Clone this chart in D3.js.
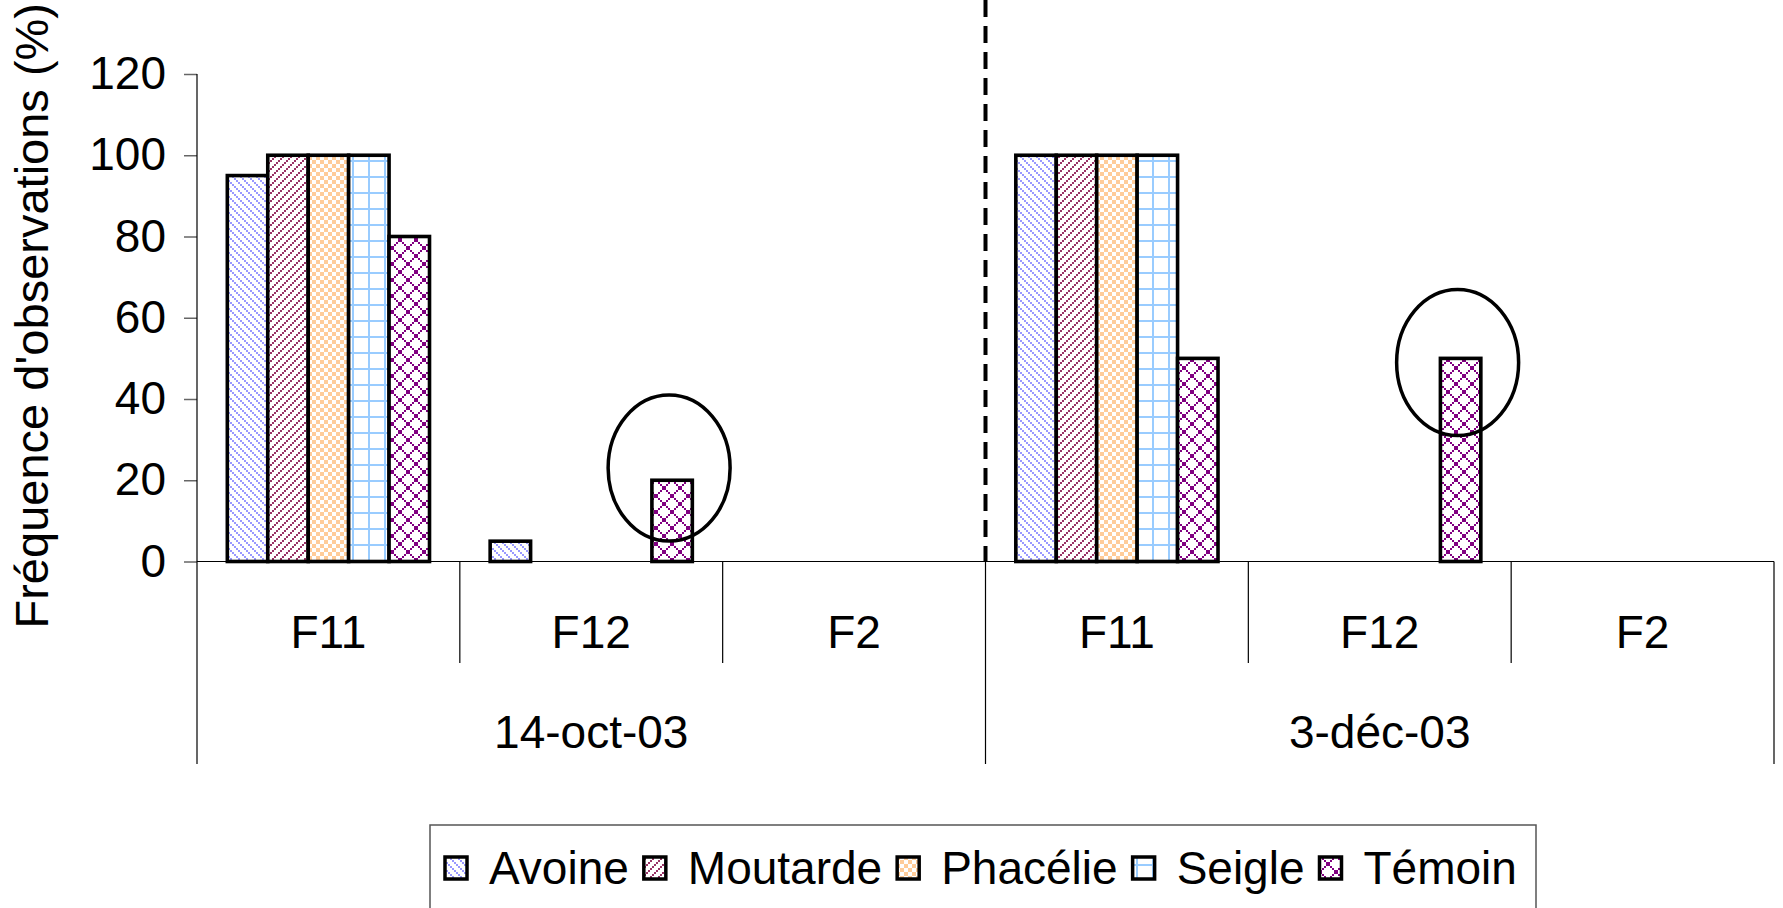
<!DOCTYPE html>
<html>
<head>
<meta charset="utf-8">
<script src="https://cdn.jsdelivr.net/npm/d3@7"></script>
<style>
  body { margin: 0; background: #fff; }
  text { font-family: "Liberation Sans", Arial, sans-serif; fill: #000; }
</style>
</head>
<body>
<div class="chart"></div>
<script>
const width = 1783;
const height = 908;

const dates = ["14-oct-03", "3-déc-03"];
const fields = ["F11", "F12", "F2"];
const series = ["Avoine", "Moutarde", "Phacélie", "Seigle", "Témoin"];
// values per category, in order 14-oct F11, F12, F2, 3-déc F11, F12, F2
const avoine   = [95, 5, 0, 100, 0, 0];
const moutarde = [100, 0, 0, 100, 0, 0];
const phacelie = [100, 0, 0, 100, 0, 0];
const seigle   = [100, 0, 0, 100, 0, 0];
const temoin   = [80, 20, 0, 50, 50, 0];
const yTicks = [0, 20, 40, 60, 80, 100, 120];
// circled bars: category index, series, height of circle centre (in %)
const circled = [
    { cat: 1, serie: "Témoin", at: 23 },
    { cat: 4, serie: "Témoin", at: 49 }
];

const values = { "Avoine": avoine, "Moutarde": moutarde, "Phacélie": phacelie, "Seigle": seigle, "Témoin": temoin };
const categories = [];
dates.forEach(d => fields.forEach(f => categories.push({ key: d + "|" + f, date: d, field: f })));

const plotLeft = 197, plotRight = 1774, plotBase = 561.5, plotTop = 74;

const svg = d3.select(".chart")
    .append("svg")
    .attr("width", width)
    .attr("height", height)
    .attr("viewBox", [0, 0, width, height]);

// Excel-like fill patterns
const defs = svg.append("defs");
function addPattern(id, size, color, cells) {
    const p = defs.append("pattern")
        .attr("id", id)
        .attr("patternUnits", "userSpaceOnUse")
        .attr("width", size)
        .attr("height", size);
    p.append("rect").attr("width", size).attr("height", size).attr("fill", "#fff");
    cells.forEach(c => p.append("rect")
        .attr("x", c[0]).attr("y", c[1]).attr("width", c[2]).attr("height", c[3])
        .attr("fill", color).attr("shape-rendering", "crispEdges"));
}
addPattern("p0", 8, "#9999ff", [[0,0,2,2],[2,2,2,2],[4,4,2,2],[6,6,2,2]]);
addPattern("p1", 8, "#993366", [[6,0,2,2],[4,2,2,2],[2,4,2,2],[0,6,2,2]]);
addPattern("p2", 8, "#ffcc99", [[0,0,4,4],[4,4,4,4]]);
addPattern("p3", 16, "#99ccff", [[0,0,16,2],[0,0,2,16]]);
addPattern("p4", 16, "#800080", d3.range(8).flatMap(i => [[2*i,2*i,2,2],[14-2*i,2*i,2,2]]));
const fillOf = s => `url(#p${series.indexOf(s)})`;

const x = d3.scaleBand()
    .domain(categories.map(c => c.key))
    .range([plotLeft, plotRight]);
const xDate = d3.scaleBand()
    .domain(dates)
    .range([plotLeft, plotRight]);
const xSerie = d3.scaleBand()
    .domain(series)
    .range([0, x.bandwidth()])
    .paddingInner(0)
    .paddingOuter(0.75);
const y = d3.scaleLinear()
    .domain([0, 120])
    .range([plotBase, plotTop]);

// dashed separator between the two dates
svg.append("line")
    .attr("x1", xDate(dates[1])).attr("x2", xDate(dates[1]))
    .attr("y1", 0).attr("y2", plotBase)
    .attr("stroke", "#000")
    .attr("stroke-width", 4)
    .attr("stroke-dasharray", "17,9");

// bars
const bars = [];
series.forEach(s => values[s].forEach((v, i) => { if (v > 0) bars.push({ serie: s, cat: categories[i].key, value: v }); }));
svg.append("g").selectAll("rect")
    .data(bars)
    .enter()
    .append("rect")
    .attr("x", d => x(d.cat) + xSerie(d.serie))
    .attr("y", d => y(d.value))
    .attr("width", xSerie.bandwidth())
    .attr("height", d => y(0) - y(d.value))
    .attr("fill", d => fillOf(d.serie))
    .attr("stroke", "#000")
    .attr("stroke-width", 3.6);

// y axis
const yAxis = d3.axisLeft(y)
    .tickValues(yTicks)
    .tickSize(13)
    .tickPadding(18);
const gY = svg.append("g")
    .attr("transform", `translate(${plotLeft}, 0)`)
    .call(yAxis);
gY.select(".domain").remove();
gY.selectAll(".tick line").attr("stroke", "#666").attr("stroke-width", 1.5);
gY.selectAll("text")
    .style("font-size", "46px")
    .style("font-family", "'Liberation Sans', Arial, sans-serif");
svg.append("line")
    .attr("x1", plotLeft).attr("x2", plotLeft)
    .attr("y1", plotTop).attr("y2", 764)
    .attr("stroke", "#000").attr("stroke-width", 1.2);

svg.append("text")
    .attr("transform", `translate(48, ${(plotTop + plotBase) / 2 - 2}) rotate(-90)`)
    .attr("text-anchor", "middle")
    .style("font-size", "47px")
    .text("Fréquence d'observations (%)");

// category axis, two levels
svg.append("line")
    .attr("x1", plotLeft).attr("x2", plotRight)
    .attr("y1", plotBase).attr("y2", plotBase)
    .attr("stroke", "#000").attr("stroke-width", 1.2);
svg.append("g").selectAll("line")
    .data(categories.slice(1))
    .enter()
    .append("line")
    .attr("x1", d => x(d.key)).attr("x2", d => x(d.key))
    .attr("y1", plotBase)
    .attr("y2", d => d.field === fields[0] ? 764 : 663)
    .attr("stroke", "#000").attr("stroke-width", 1.2);
svg.append("line")
    .attr("x1", plotRight).attr("x2", plotRight)
    .attr("y1", plotBase).attr("y2", 764)
    .attr("stroke", "#000").attr("stroke-width", 1.2);

svg.append("g").selectAll("text")
    .data(categories)
    .enter()
    .append("text")
    .attr("x", d => x(d.key) + x.bandwidth() / 2)
    .attr("y", 648)
    .attr("text-anchor", "middle")
    .style("font-size", "46px")
    .text(d => d.field);
svg.append("g").selectAll("text")
    .data(dates)
    .enter()
    .append("text")
    .attr("x", d => xDate(d) + xDate.bandwidth() / 2)
    .attr("y", 748)
    .attr("text-anchor", "middle")
    .style("font-size", "46px")
    .text(d => d);

// circles round the témoin bars
svg.append("g").selectAll("ellipse")
    .data(circled)
    .enter()
    .append("ellipse")
    .attr("cx", d => x(categories[d.cat].key) + xSerie(d.serie) + xSerie.bandwidth() / 2 - 3)
    .attr("cy", d => y(d.at))
    .attr("rx", 61)
    .attr("ry", 73)
    .attr("fill", "none")
    .attr("stroke", "#000")
    .attr("stroke-width", 3.5);

// legend
svg.append("rect")
    .attr("x", 430).attr("y", 825)
    .attr("width", 1106).attr("height", 100)
    .attr("fill", "none")
    .attr("stroke", "#555").attr("stroke-width", 1.5);
const legend = svg.append("g");
let lx = 445;
series.forEach(s => {
    legend.append("rect")
        .attr("x", lx).attr("y", 857)
        .attr("width", 22).attr("height", 22)
        .attr("fill", fillOf(s))
        .attr("stroke", "#000").attr("stroke-width", 3.5);
    const t = legend.append("text")
        .attr("x", lx + 44)
        .attr("y", 884)
        .style("font-size", "46px")
        .text(s);
    lx += 44 + t.node().getComputedTextLength() + 15;
});
</script>
</body>
</html>
